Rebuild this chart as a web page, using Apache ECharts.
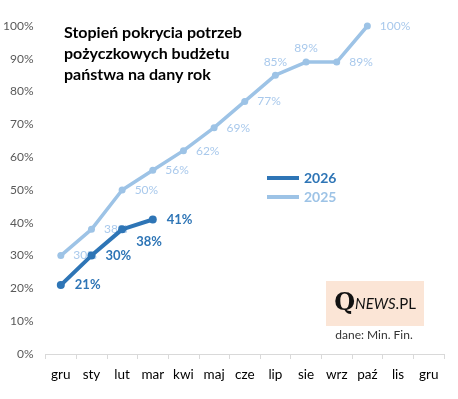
<!DOCTYPE html>
<html>
<head>
<meta charset="utf-8">
<script src="https://cdn.jsdelivr.net/npm/echarts@6/dist/echarts.min.js"></script>
<style>
  html,body{margin:0;padding:0;background:#fff;}
  #chart{width:458px;height:399px;}
</style>
</head>
<body>
<div id="chart"></div>
<script>
// miesiące (oś X)
var months = ['gru','sty','lut','mar','kwi','maj','cze','lip','sie','wrz','paź','lis','gru'];
// stopień pokrycia potrzeb, w %
var data2025 = [30, 38, 50, 56, 62, 69, 77, 85, 89, 89, 100, null, null];
var data2026 = [21, 30, 38, 41, null, null, null, null, null, null, null, null, null];
var yTicks = [0, 100, 10]; // min, max, krok

var FONT = 'Lato, "Open Sans", sans-serif';
var dark = '#2e75b6', light = '#9dc3e6';

// etykiety 2025 - niektóre nad punktem
function pts2025(){
    var out = [];
    for(var i=0;i<data2025.length;i++){
        var it = {value:data2025[i]};
        if(i == 7 || i == 8){
            it.label = {position:'top', distance:4};
        }
        out.push(it);
    }
    return out;
}
function pts2026(){
    var out = [];
    for(var i=0;i<data2026.length;i++){
        var it = {value:data2026[i]};
        if(i == 2){
            it.label = {offset:[0,12]};
        }
        out.push(it);
    }
    return out;
}

var chart = echarts.init(document.getElementById('chart'));
chart.setOption({
    animation:false,
    grid:{left:45, right:14, top:26, bottom:45, containLabel:false},
    legend:{
        orient:'vertical', left:262, top:166, itemGap:5,
        icon:'rect', itemWidth:32, itemHeight:4,
        textStyle:{fontFamily:FONT, fontSize:14, fontWeight:'bold', lineHeight:14},
        data:[
            {name:'2026', textStyle:{color:dark}},
            {name:'2025', textStyle:{color:light, fontWeight:'bold'}}
        ]
    },
    xAxis:{
        type:'category', data:months, boundaryGap:true,
        axisLine:{lineStyle:{color:'#d9d9d9', width:1}},
        axisTick:{show:true, length:5, lineStyle:{color:'#d9d9d9'}},
        axisLabel:{color:'#000', fontFamily:FONT, fontSize:13.5, margin:14, interval:0}
    },
    yAxis:{
        type:'value', min:yTicks[0], max:yTicks[1], interval:yTicks[2],
        axisLine:{show:false}, axisTick:{show:false}, splitLine:{show:false},
        axisLabel:{formatter:'{value}%', color:'#595959', fontFamily:FONT, fontSize:12, margin:12}
    },
    series:[
        {
            name:'2025', type:'line', data:pts2025(),
            lineStyle:{color:light, width:3.5}, itemStyle:{color:light},
            symbol:'circle', symbolSize:7, z:2,
            label:{show:true, position:'right', distance:9, formatter:'{c}%',
                   color:'#a9c9ec', fontFamily:FONT, fontSize:12}
        },
        {
            name:'2026', type:'line', data:pts2026(),
            lineStyle:{color:dark, width:4}, itemStyle:{color:dark},
            symbol:'circle', symbolSize:8, z:3,
            label:{show:true, position:'right', distance:10, formatter:'{c}%',
                   color:dark, fontFamily:FONT, fontSize:13, fontWeight:'bold'}
        }
    ],
    graphic:[
        {
            type:'text', left:64, top:22,
            style:{text:'Stopień pokrycia potrzeb\npożyczkowych budżetu\npaństwa na dany rok',
                   font:'bold 16px ' + FONT, fill:'#000', lineHeight:21}
        },
        {
            type:'rect', shape:{x:326, y:281, width:98, height:45},
            style:{fill:'#fbe5d6'}
        },
        {
            type:'text', x:375, y:304,
            style:{
                text:'{q|Q}{n|NEWS}{p|.PL}', align:'center', verticalAlign:'middle',
                rich:{
                    q:{font:'bold 24px "DejaVu Serif", serif', fill:'#111'},
                    n:{font:'italic 15px ' + FONT, fill:'#111'},
                    p:{font:'15px ' + FONT, fill:'#111'}
                }
            }
        },
        {
            type:'text', x:374, y:335,
            style:{text:'dane: Min. Fin.', font:'12px ' + FONT, fill:'#333',
                   align:'center', verticalAlign:'middle'}
        }
    ]
});
</script>
</body>
</html>
